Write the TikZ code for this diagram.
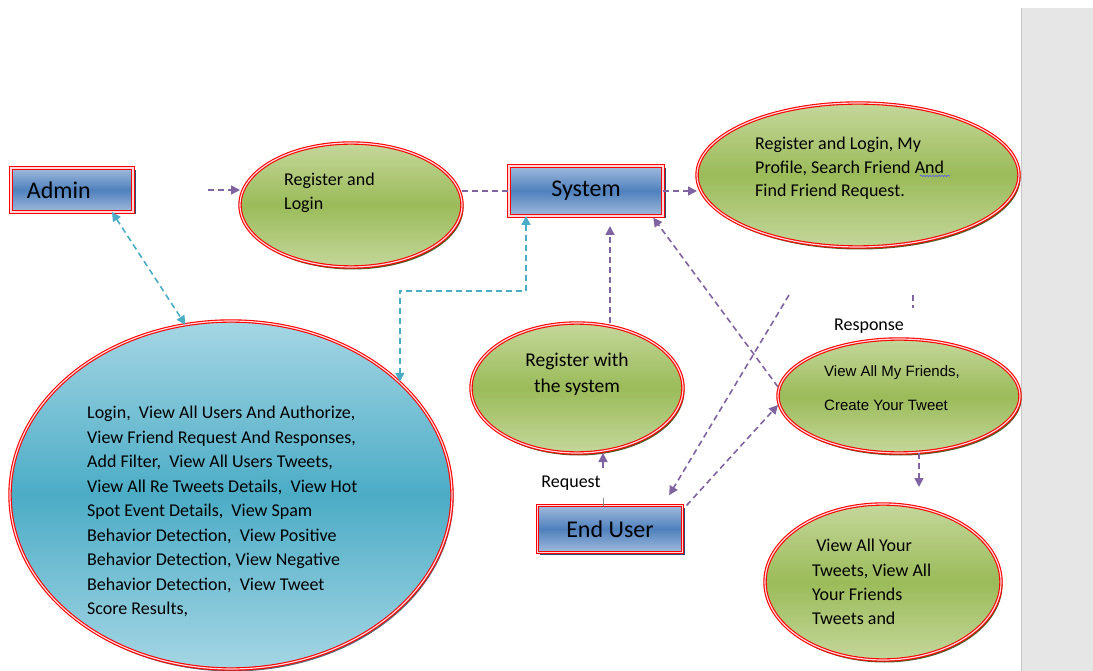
\documentclass[tikz,border=0pt]{standalone}
\usepackage{fontspec}
\setmainfont{Carlito}
\newfontfamily\arialfont{Liberation Sans}
\usetikzlibrary{arrows.meta, positioning, shapes.geometric, shadows, decorations.pathmorphing}

\definecolor{vio}{RGB}{128,100,162}
\definecolor{aqua}{RGB}{75,172,198}
\definecolor{leafhi}{RGB}{196,215,155}
\definecolor{leaf}{RGB}{155,187,89}
\definecolor{leafdk}{RGB}{79,98,40}
\definecolor{seahi}{RGB}{165,214,228}
\definecolor{sea}{RGB}{75,172,198}
\definecolor{seadk}{RGB}{90,110,120}
\definecolor{skyhi}{RGB}{160,186,220}
\definecolor{sky}{RGB}{79,129,189}
\definecolor{navy}{RGB}{44,77,117}
\definecolor{panel}{RGB}{230,230,230}

\begin{document}
\begin{tikzpicture}[x=1pt, y=-1pt,
    >={Triangle[length=9pt, width=9pt]},
    ringed/.style = {draw=red, double=white!85!red, double distance=1.2pt, line width=1.1pt,
                     inner sep=0pt, outer sep=0pt},
    ell/.style    = {ellipse, ringed, top color=leafhi, bottom color=leafhi, middle color=leaf,
                     drop shadow={shadow xshift=1.5pt, shadow yshift=-2.5pt, opacity=1, fill=leafdk}},
    ellsea/.style = {ellipse, ringed, top color=seahi, bottom color=seahi, middle color=sea,
                     drop shadow={shadow xshift=1.5pt, shadow yshift=-2.5pt, opacity=1, fill=seadk}},
    box/.style    = {rectangle, ringed, top color=skyhi, bottom color=skyhi, middle color=sky,
                     drop shadow={shadow xshift=2.5pt, shadow yshift=-2.5pt, opacity=1, fill=navy},
                     font=\fontsize{24}{28}\selectfont},
    txt/.style    = {inner sep=0pt, anchor=north west, align=left, font=\fontsize{18}{23.5}\selectfont},
    lbl/.style    = {inner sep=0pt, font=\fontsize{18}{20}\selectfont},
    vline/.style  = {vio, line width=1.6pt, dash pattern=on 6pt off 4pt},
    cline/.style  = {aqua, line width=1.6pt, dash pattern=on 6pt off 4pt}
  ]
\useasboundingbox (0,0) rectangle (1093,671);
\fill[panel] (1021,8) rectangle (1093,671);
\draw[black!22] (1021,8) -- (1021,671);

% boxes
\node[box, minimum width=122pt, minimum height=44pt, text width=90pt, align=left] (admin) at (72,190) {Admin};
\node[box, minimum width=154pt, minimum height=50pt] (system) at (586,191) {System};
\node[box, minimum width=145pt, minimum height=47pt] (endu) at (610,529) {End User};

% ellipses
\node[ell, minimum width=222pt, minimum height=124pt] (reglog) at (351,205) {};
\node[ell, minimum width=322pt, minimum height=144pt] (prof) at (858,175) {};
\node[ellsea, minimum width=442pt, minimum height=348pt] (admfn) at (231,495) {};
\node[ell, minimum width=212pt, minimum height=130pt] (regsys) at (577,388) {};
\node[ell, minimum width=242pt, minimum height=114pt] (friends) at (899,396) {};
\node[ell, minimum width=236pt, minimum height=156pt] (tweets) at (883,582) {};

% texts
\node[txt] (reglogtxt) at (284,173) {Register and\\Login};
\node[txt] (proftxt) at (755,137) {Register and Login, My\\Profile, Search Friend And\\Find Friend Request.};
\draw[blue!65, line width=0.6pt, decorate, decoration={snake, amplitude=0.8pt, segment length=3pt}]
    (920,176) -- (950,176);
\node[txt, font=\fontsize{18}{24.5}\selectfont] (admfntxt) at (87,406)
    {Login,~ View All Users And Authorize,\\
     View Friend Request And Responses,\\
     Add Filter,~ View All Users Tweets,\\
     View All Re Tweets Details,~ View Hot\\
     Spot Event Details,~ View Spam\\
     Behavior Detection,~ View Positive\\
     Behavior Detection, View Negative\\
     Behavior Detection,~ View Tweet\\
     Score Results,};
\node[txt, anchor=north, align=center, font=\fontsize{19.5}{26}\selectfont] (regsystxt) at (577,353)
    {Register with\\the system};
\node[txt, font=\arialfont\fontsize{15}{34}\selectfont] (friendstxt) at (824,365)
    {View All My Friends,\\Create Your Tweet};
\node[txt, font=\fontsize{18}{24.3}\selectfont] (tweetstxt) at (812,539)
    {\ View All Your\\Tweets, View All\\Your Friends\\Tweets and};
\node[lbl] (response) at (869,326) {Response};
\node[lbl, minimum height=30pt] (request) at (571,483) {Request};

% connectors
\draw[vline,->] ([xshift=75pt]admin.east) -- (admin.east -| reglog.west);
\draw[vline] (reglog.east |- system.west) -- (system.west);
\draw[vline,->] (system.east) -- (system.east -| prof.west);
\draw[cline,<->] ([xshift=40pt]admin.south) -- (admfn.105);
\draw[cline,<->] ([xshift=-60pt]system.south) -- ++(0,75) -| ([xshift=1pt]admfn.34);
\draw[vline,->, shorten >=10pt] ([xshift=33pt]regsys.north) -- ([xshift=33pt]regsys.north |- system.south);
\draw[vline,->, shorten >=2pt] ([yshift=9pt]friends.west) -- ([xshift=-11pt]system.south east);
\coordinate (fwd) at (789,295);
\draw[vline,->, shorten >=12pt] (fwd) -- ([xshift=53pt]endu.north);
\draw[vline,->] ([xshift=4pt]endu.north east) -- ([yshift=-9pt]friends.west);
\draw[vline] ([xshift=55pt, yshift=-48pt]prof.south) -- ++(0,13);
\draw[vline,->] ([xshift=20pt]friends.south) -- ++(0,34);
\coordinate (rq) at ([xshift=-7pt]endu.north);
\draw[black!45, line width=0.6pt] (rq) -- (rq |- request.south);
\draw[vline,->] (rq |- request.north) -- (rq |- regsys.south);
\end{tikzpicture}
\end{document}
